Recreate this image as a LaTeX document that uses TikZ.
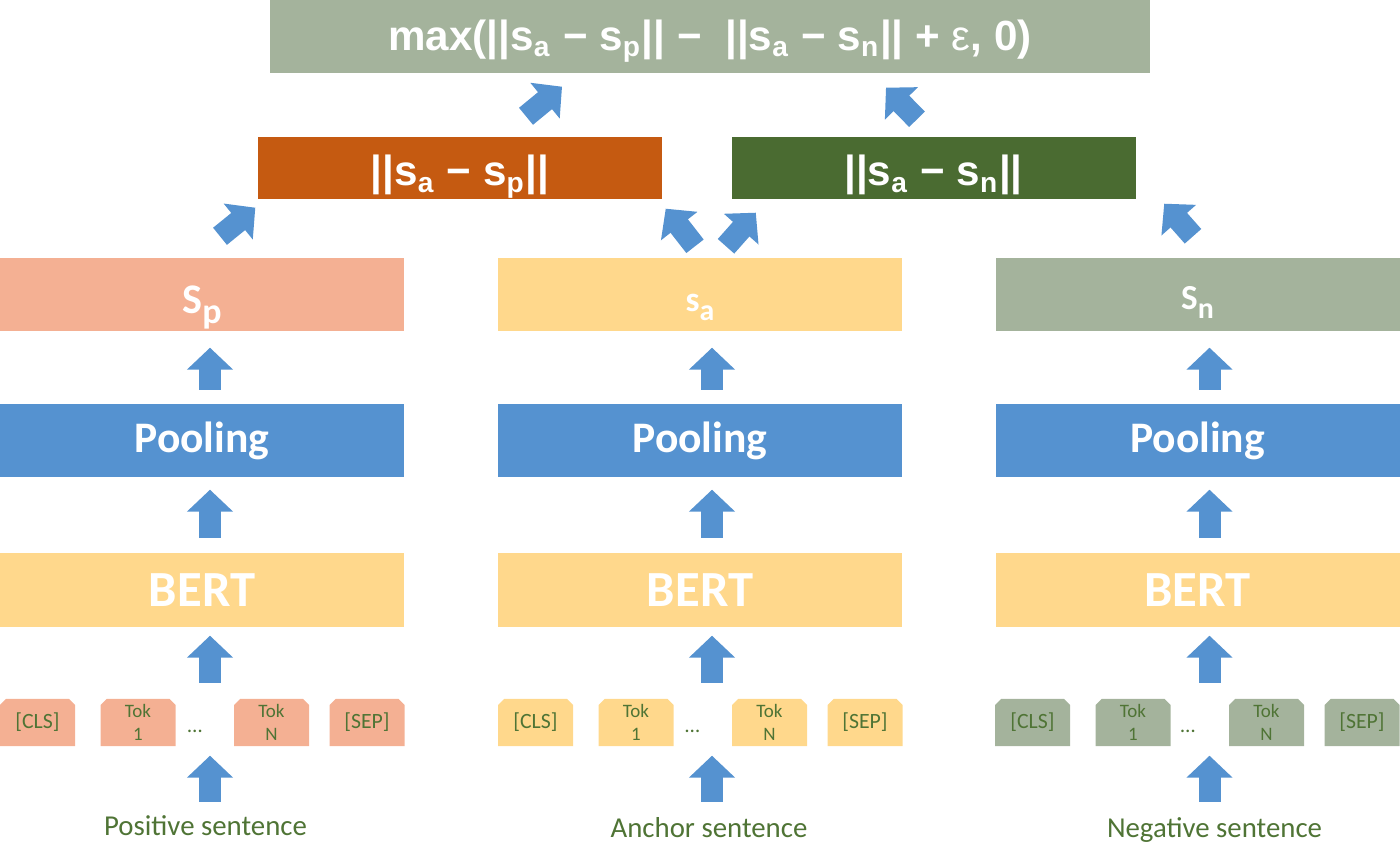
\documentclass[tikz,border=0pt]{standalone}
\usepackage{fontspec}
\setmainfont{Carlito}
\newfontfamily\arialfont{Liberation Sans}
\usetikzlibrary{arrows.meta,calc,shapes.misc}
\definecolor{salmon}{HTML}{F4B093}
\definecolor{paleyellow}{HTML}{FFD88C}
\definecolor{sage}{HTML}{A4B39C}
\definecolor{poolblue}{HTML}{5592D0}
\definecolor{rust}{HTML}{C55A11}
\definecolor{forest}{HTML}{4A6B31}
\definecolor{txtgreen}{HTML}{4F7435}
\newcommand\lowsub[1]{\raisebox{-0.25em}{\scalebox{0.85}{#1}}}

\begin{document}
\begin{tikzpicture}[
    box/.style={minimum height=0.73cm, inner sep=0pt, text=white},
    colbox/.style={box, minimum width=4.04cm},
    sbox/.style={colbox, text height=9.6pt, text depth=0pt},
    diffbox/.style={box, minimum width=4.04cm, minimum height=0.62cm, text height=10.2pt, text depth=0pt,
        font=\arialfont\bfseries\fontsize{12}{14}\selectfont},
    tok/.style={chamfered rectangle, chamfered rectangle corners={north west,north east},
        chamfered rectangle xsep=0.3mm, chamfered rectangle ysep=0.3mm,
        minimum width=0.75cm, minimum height=0.47cm, inner sep=0pt, text=txtgreen, align=center},
    cls/.style={tok, font=\fontsize{6.2}{7}\selectfont},
    word/.style={tok, font=\fontsize{5.4}{6.5}\selectfont},
    dots/.style={text=txtgreen, inner sep=0pt, font=\fontsize{6}{7}\selectfont},
    lab/.style={text=txtgreen, inner sep=0pt, anchor=base, font=\fontsize{8.2}{9}\selectfont},
    fat/.style={line width=2.2mm, draw=poolblue, -{Triangle[length=2.2mm,width=4.5mm]}}
]
\useasboundingbox (0,0) rectangle (14,-8.61);

% loss on top
\node[box, fill=sage, minimum width=8.80cm, text height=7.7pt, text depth=0pt,
    font=\arialfont\bfseries\fontsize{12}{14}\selectfont] (L) at (7.10,-0.365)
    {max(||s\textsubscript{a} − s\textsubscript{p}|| −~~||s\textsubscript{a} − s\textsubscript{n}|| + {\mdseries ε}, 0)};

% distances
\node[diffbox, fill=rust] (DP) at (4.60,-1.68) {||s\textsubscript{a} − s\textsubscript{p}||};
\node[diffbox, fill=forest] (DN) at (9.335,-1.68) {||s\textsubscript{a} − s\textsubscript{n}||};

% sentence embeddings
\node[sbox, fill=salmon, text height=10.6pt, font=\bfseries\fontsize{12}{14}\selectfont] (SP) at (2.02,-2.945) {S\lowsub{p}};
\node[sbox, fill=paleyellow, font=\bfseries\fontsize{10}{12}\selectfont] (SA) at (7.00,-2.945) {s\lowsub{a}};
\node[sbox, fill=sage, text height=8.8pt, font=\bfseries\fontsize{10}{12}\selectfont] (SN) at (11.975,-2.945) {S\lowsub{n}};

% pooling
\node[colbox, fill=poolblue, font=\bfseries\fontsize{12.4}{14}\selectfont] (PP) at (2.02,-4.405) {Pooling};
\node[colbox, fill=poolblue, font=\bfseries\fontsize{12.4}{14}\selectfont] (PA) at (7.00,-4.405) {Pooling};
\node[colbox, fill=poolblue, font=\bfseries\fontsize{12.4}{14}\selectfont] (PN) at (11.975,-4.405) {Pooling};

% encoders
\node[colbox, fill=paleyellow, minimum height=0.74cm, font=\bfseries\fontsize{14.4}{16}\selectfont] (BP) at (2.02,-5.90) {BERT};
\node[colbox, fill=paleyellow, minimum height=0.74cm, font=\bfseries\fontsize{14.4}{16}\selectfont] (BA) at (7.00,-5.90) {BERT};
\node[colbox, fill=paleyellow, minimum height=0.74cm, font=\bfseries\fontsize{14.4}{16}\selectfont] (BN) at (11.975,-5.90) {BERT};

% tokens
\node[cls, fill=salmon] (CLSp) at (0.375,-7.225) {[CLS]};
\node[word, fill=salmon] (TOKp1) at (1.38,-7.225) {Tok\\1};
\node[dots] (DOTp) at (1.95,-7.31) {\dots};
\node[word, fill=salmon] (TOKpN) at (2.715,-7.225) {Tok\\N};
\node[cls, fill=salmon] (SEPp) at (3.67,-7.225) {[SEP]};

\node[cls, fill=paleyellow] (CLSa) at (5.355,-7.225) {[CLS]};
\node[word, fill=paleyellow] (TOKa1) at (6.36,-7.225) {Tok\\1};
\node[dots] (DOTa) at (6.925,-7.31) {\dots};
\node[word, fill=paleyellow] (TOKaN) at (7.695,-7.225) {Tok\\N};
\node[cls, fill=paleyellow] (SEPa) at (8.65,-7.225) {[SEP]};

\node[cls, fill=sage] (CLSn) at (10.325,-7.225) {[CLS]};
\node[word, fill=sage] (TOKn1) at (11.33,-7.225) {Tok\\1};
\node[dots] (DOTn) at (11.88,-7.31) {\dots};
\node[word, fill=sage] (TOKnN) at (12.665,-7.225) {Tok\\N};
\node[cls, fill=sage] (SEPn) at (13.62,-7.225) {[SEP]};

% inputs
\node[lab] (LP) at (2.055,-8.35) {Positive sentence};
\node[lab] (LA) at (7.09,-8.37) {Anchor sentence};
\node[lab] (LN) at (12.145,-8.37) {Negative sentence};

% straight arrows
\draw[fat] ($(BP.south |- TOKp1.south)+(0.08,-0.55)$) -- ($(BP.south |- TOKp1.south)+(0.08,-0.09)$);
\draw[fat] ($(BP.south)+(0.08,-0.55)$) -- ($(BP.south)+(0.08,-0.08)$);
\draw[fat] ($(PP.south)+(0.08,-0.60)$) -- ($(PP.south)+(0.08,-0.12)$);
\draw[fat] ($(SP.south)+(0.08,-0.58)$) -- ($(SP.south)+(0.08,-0.16)$);

\draw[fat] ($(BA.south |- TOKa1.south)+(0.12,-0.55)$) -- ($(BA.south |- TOKa1.south)+(0.12,-0.09)$);
\draw[fat] ($(BA.south)+(0.12,-0.55)$) -- ($(BA.south)+(0.12,-0.08)$);
\draw[fat] ($(PA.south)+(0.12,-0.60)$) -- ($(PA.south)+(0.12,-0.12)$);
\draw[fat] ($(SA.south)+(0.12,-0.58)$) -- ($(SA.south)+(0.12,-0.16)$);

\draw[fat] ($(BN.south |- TOKn1.south)+(0.12,-0.55)$) -- ($(BN.south |- TOKn1.south)+(0.12,-0.09)$);
\draw[fat] ($(BN.south)+(0.12,-0.55)$) -- ($(BN.south)+(0.12,-0.08)$);
\draw[fat] ($(PN.south)+(0.12,-0.60)$) -- ($(PN.south)+(0.12,-0.12)$);
\draw[fat] ($(SN.south)+(0.12,-0.58)$) -- ($(SN.south)+(0.12,-0.16)$);

% slanted arrows
\draw[fat] ($(SP.north)+(0.18,0.21)$) -- ($(DP.south west)+(-0.02,-0.08)$);
\draw[fat] ($(SA.north)+(-0.05,0.11)$) -- ($(DP.south east)+(0.03,-0.09)$);
\draw[fat] ($(SA.north)+(0.26,0.11)$) -- ($(DN.south west)+(0.25,-0.13)$);
\draw[fat] ($(SN.north)+(-0.045,0.21)$) -- ($(DN.south east)+(0.28,-0.04)$);
\draw[fat] ($(DP.north)+(0.66,0.20)$) -- ($(L.south)+(-1.48,-0.13)$);
\draw[fat] ($(DN.north)+(-0.165,0.17)$) -- ($(L.south)+(1.76,-0.14)$);
\end{tikzpicture}
\end{document}
